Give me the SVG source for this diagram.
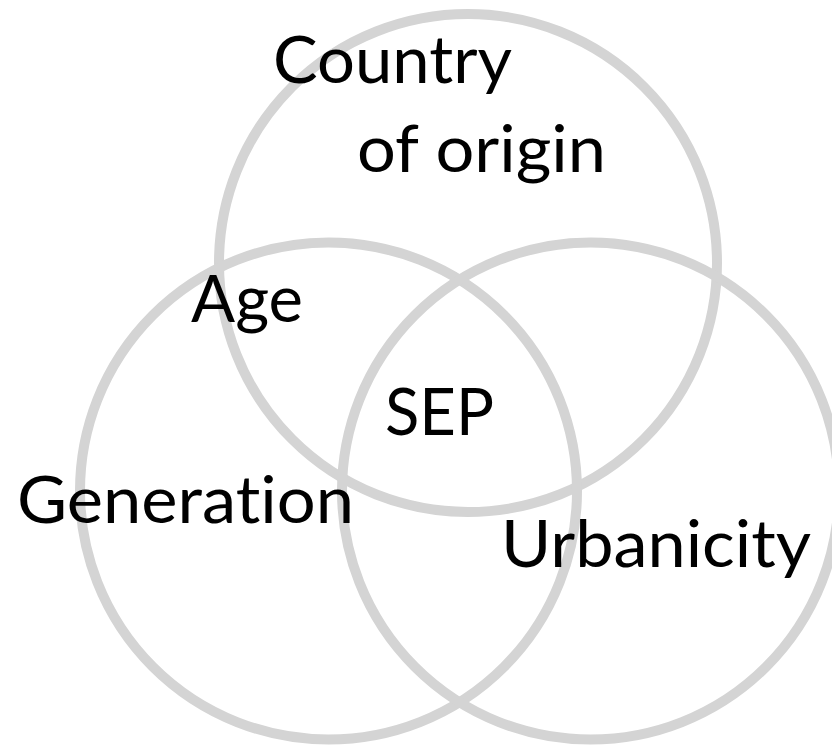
<svg xmlns="http://www.w3.org/2000/svg" width="832" height="745" viewBox="0 0 832 745">
<style>
.c{fill:none;stroke:#d4d4d4;stroke-width:10}
.t{font-family:Lato,"Open Sans","Liberation Sans",sans-serif;font-size:66px;fill:#000;font-variant-ligatures:none;font-feature-settings:"liga" 0,"clig" 0}
</style>
<rect width="832" height="745" fill="#fff"/>
<g id="circle-country"><circle class="c" cx="468" cy="263" r="249"/></g>
<g id="circle-generation"><circle class="c" cx="328.5" cy="491" r="248.5"/></g>
<g id="circle-urbanicity"><circle class="c" cx="590.5" cy="491" r="248.5"/></g>
<g id="connectors"></g>
<g id="label-country"><text class="t" x="273" y="83" textLength="239" lengthAdjust="spacingAndGlyphs">Country</text><text class="t" x="357" y="172" textLength="249" lengthAdjust="spacingAndGlyphs">of origin</text></g>
<g id="label-age"><text class="t" x="191" y="322" textLength="112" lengthAdjust="spacingAndGlyphs">Age</text></g>
<g id="label-sep"><text class="t" x="385" y="435" textLength="109" lengthAdjust="spacingAndGlyphs">SEP</text></g>
<g id="label-generation"><text class="t" x="17" y="523" textLength="337" lengthAdjust="spacingAndGlyphs">Generation</text></g>
<g id="label-urbanicity"><text class="t" x="501" y="567" textLength="310" lengthAdjust="spacingAndGlyphs">Urbanicity</text></g>
</svg>
